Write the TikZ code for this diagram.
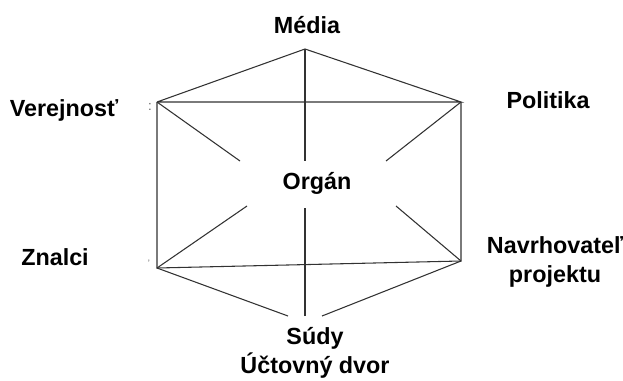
\documentclass[tikz,border=0pt]{standalone}
\usepackage{fontspec}
\setmainfont{Liberation Sans}
\usepackage{tikz}
\usetikzlibrary{calc}
\definecolor{edgecolor}{RGB}{50, 50, 50}
\definecolor{markcolor}{RGB}{100, 100, 100}

\begin{document}
\begin{tikzpicture}[x=0.75pt, y=0.75pt,
  edge/.style={edgecolor, line width=0.8pt},
  actor/.style={font=\fontsize{17.5}{20}\selectfont\bfseries, align=center, inner sep=0pt}]

  \useasboundingbox (0,0) rectangle (623,380);

  % ---------- corners of the hexagon ----------
  \coordinate (top) at (305,331);
  \coordinate (ul) at (157,278);
  \coordinate (ur) at (461,278);
  \coordinate (ll) at (157,112);
  \coordinate (lr) at (461,119);

  % ---------- free ends round the centre and the bottom ----------
  \coordinate (inUL) at (240,219);
  \coordinate (inTop) at (305,219);
  \coordinate (inUR) at (386,219);
  \coordinate (inLL) at (247,174);
  \coordinate (inBot) at (305,172);
  \coordinate (inLR) at (396,174);
  \coordinate (botL) at (288,64);
  \coordinate (botM) at (305,64);
  \coordinate (botR) at (322,64);

  % ---------- outline ----------
  \draw[edge] (ul) -- (top) -- (ur) -- (ul);
  \draw[edge] (ul) -- (ll) -- (lr) -- (ur);
  \draw[edge] (ll) -- (botL);
  \draw[edge] (lr) -- (botR);

  % ---------- spokes towards the centre ----------
  \draw[edge] (top) -- (inTop);
  \draw[edge] (ul) -- (inUL);
  \draw[edge] (ur) -- (inUR);
  \draw[edge] (ll) -- (inLL);
  \draw[edge] (lr) -- (inLR);
  \draw[edge] (botM) -- (inBot);

  % ---------- labels ----------
  \node[actor] (media) at (307,355) {Média};
  \node[actor] (organ) at (317,197) {Orgán};
  \node[actor] (verejnost) at (64,270) {Verejnosť};
  \node[actor] (politika) at (548,280) {Politika};
  \node[actor] (znalci) at (55,123) {Znalci};
  \node[actor, font=\fontsize{17.5}{22}\selectfont\bfseries] (navrh) at (555,118) {Navrhovateľ\\projektu};
  \node[actor, font=\fontsize{17.5}{22}\selectfont\bfseries] (sudy) at (315,27) {Súdy\\Účtovný dvor};

  % ---------- small marks beside the left corners ----------
  \node[font=\normalsize, markcolor, inner sep=0pt] (markUL) at (150,273) {:};
  \node[font=\scriptsize, markcolor, inner sep=0pt] (markLL) at (149,117) {'};

\end{tikzpicture}
\end{document}
